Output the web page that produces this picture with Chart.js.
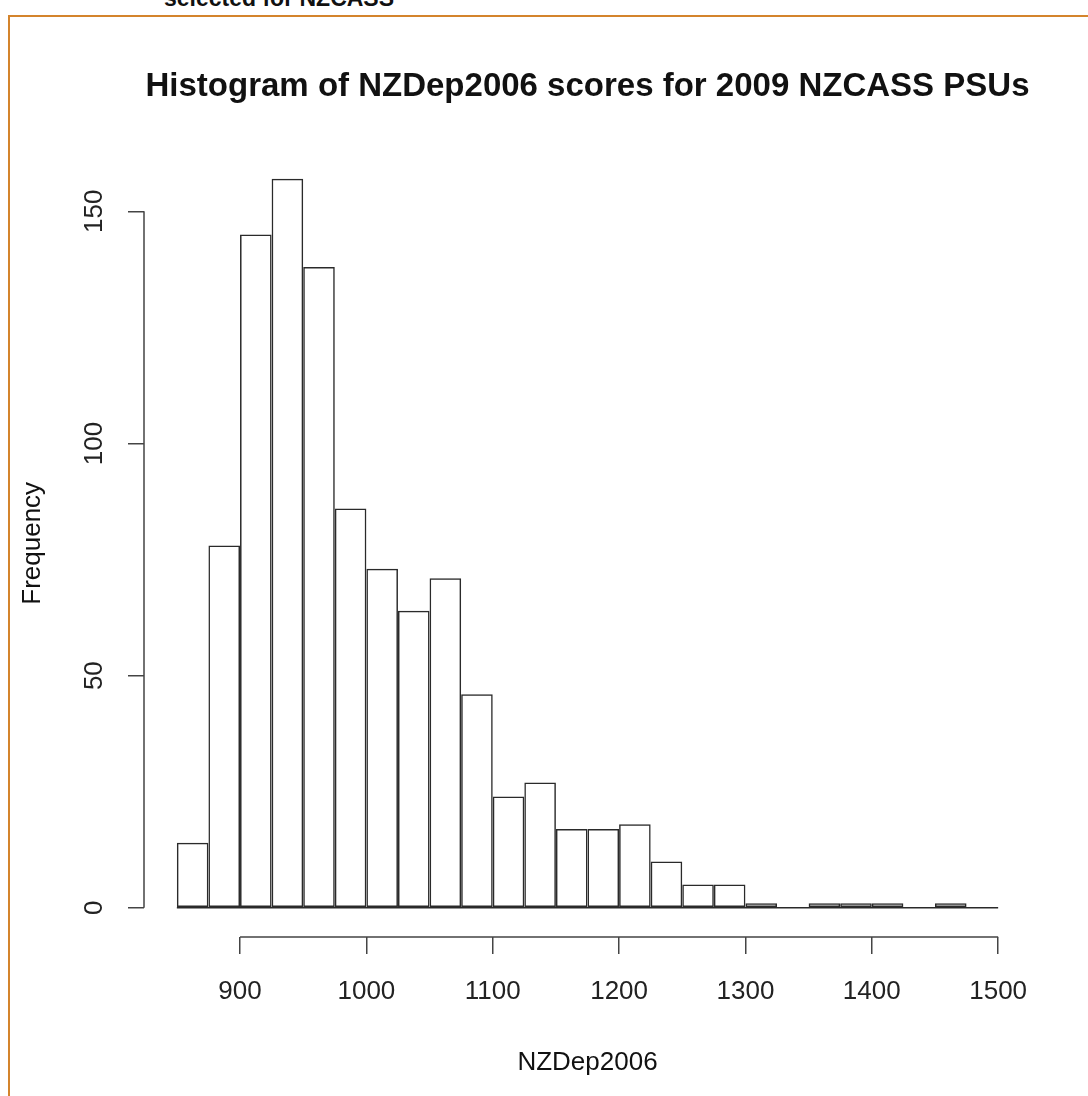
<!DOCTYPE html>
<html><head><meta charset="utf-8">
<script src="https://cdn.jsdelivr.net/npm/chart.js@4.4.1/dist/chart.umd.min.js"></script>
<style>
html,body{margin:0;padding:0;background:#fff;width:1088px;height:1096px;overflow:hidden;}
#frame{position:absolute;left:8px;top:15px;width:1100px;height:1100px;border-left:2px solid #d4842c;border-top:2px solid #d4842c;}
#cap{position:absolute;left:164px;top:-13px;font:bold 23px "Liberation Sans",Arial,sans-serif;line-height:23px;color:#111;white-space:nowrap;}
#wrap{position:absolute;left:0;top:0;width:1088px;height:1096px;}
canvas{position:absolute;left:0;top:0;}
</style></head><body>
<div id="cap">selected for NZCASS</div>
<div id="frame"></div>
<div id="wrap"><canvas id="c" width="1088" height="1096"></canvas></div>
<script>
// ---- data ----
const binEdges = [850,875,900,925,950,975,1000,1025,1050,1075,1100,1125,1150,1175,1200,1225,1250,1275,1300,1325,1350,1375,1400,1425,1450,1475,1500];
const counts   = [14,78,145,157,138,86,73,64,71,46,24,27,17,17,18,10,5,5,1,0,1,1,1,0,1,0];
const xTicks = [900,1000,1100,1200,1300,1400,1500];
const yTicks = [0,50,100,150];
const titleText = 'Histogram of NZDep2006 scores for 2009 NZCASS PSUs';
const xTitle = 'NZDep2006';
const yTitle = 'Frequency';

const FONT = '"Liberation Sans", Arial, Helvetica, sans-serif';
const barData = counts.map((c, i) => ({x: (binEdges[i] + binEdges[i + 1]) / 2, y: c}));

const axisLines = {
  id: 'axisLines',
  afterDatasetsDraw(chart) {
    const {ctx, scales: {x, y}} = chart;
    ctx.save();
    ctx.lineWidth = 1.5;
    ctx.strokeStyle = '#2a2a2a';
    const y0 = y.getPixelForValue(0);
    ctx.beginPath();
    ctx.moveTo(x.getPixelForValue(binEdges[0]), y0);
    ctx.lineTo(x.getPixelForValue(binEdges[binEdges.length - 1]), y0);
    ctx.stroke();
    ctx.strokeStyle = '#444';
    ctx.beginPath();
    ctx.moveTo(x.getPixelForValue(xTicks[0]), x.top);
    ctx.lineTo(x.getPixelForValue(xTicks[xTicks.length - 1]), x.top);
    ctx.moveTo(y.right, y.getPixelForValue(yTicks[0]));
    ctx.lineTo(y.right, y.getPixelForValue(yTicks[yTicks.length - 1]));
    ctx.stroke();
    ctx.restore();
  }
};

new Chart(document.getElementById('c'), {
  type: 'bar',
  data: {
    datasets: [{
      data: barData,
      backgroundColor: 'rgba(255,255,255,0)',
      borderColor: '#2a2a2a',
      borderWidth: 1.5,
      borderSkipped: false,
      inflateAmount: 0,
      barPercentage: 1,
      categoryPercentage: 1
    }]
  },
  options: {
    responsive: false,
    animation: false,
    devicePixelRatio: 1,
    layout: {padding: {left: 0, right: 57, top: 0, bottom: 0}},
    plugins: {
      legend: {display: false},
      tooltip: {enabled: false},
      title: {
        display: true,
        text: titleText,
        fullSize: false,
        color: '#111',
        font: {family: FONT, size: 33, weight: 'bold'},
        padding: {top: 67, bottom: 43}
      }
    },
    scales: {
      x: {
        type: 'linear',
        offset: false,
        min: 824,
        max: 1526,
        afterBuildTicks: s => { s.ticks = xTicks.map(v => ({value: v})); },
        afterFit: s => { s.height = 159; },
        grid: {offset: false, drawOnChartArea: false, drawTicks: true, tickLength: 17, color: '#444', lineWidth: 1.5},
        border: {display: false},
        ticks: {font: {family: FONT, size: 26}, color: '#222', padding: 22, maxRotation: 0, minRotation: 0, autoSkip: false,
                callback: v => String(v)},
        title: {display: true, text: xTitle, color: '#111', font: {family: FONT, size: 26}, padding: {top: 0, bottom: 18}}
      },
      y: {
        type: 'linear',
        min: -6.28,
        max: 163.28,
        afterBuildTicks: s => { s.ticks = yTicks.map(v => ({value: v})); },
        afterFit: s => { s.width = 144; },
        grid: {drawOnChartArea: false, drawTicks: true, tickLength: 16, color: '#444', lineWidth: 1.5},
        border: {display: false},
        ticks: {font: {family: FONT, size: 26}, color: '#222', padding: 11, minRotation: 90, maxRotation: 90, crossAlign: 'center', autoSkip: false,
                callback: v => String(v)},
        title: {display: true, text: yTitle, color: '#111', font: {family: FONT, size: 26}, padding: {top: 17, bottom: 0}}
      }
    }
  },
  plugins: [axisLines]
});
</script>
</body></html>
